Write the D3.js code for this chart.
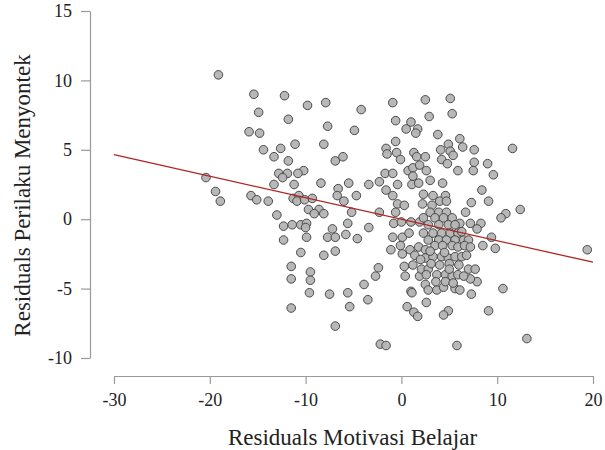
<!DOCTYPE html>
<html>
<head>
<meta charset="utf-8">
<script src="https://cdn.jsdelivr.net/npm/d3@7"></script>
<style>
  html, body { margin: 0; padding: 0; background: #fff; }
  svg { display: block; }
</style>
</head>
<body>
<svg id="chart" width="605" height="450"></svg>
<script>
// ---- data ----
const xTicks = [-30, -20, -10, 0, 10, 20];
const yTicks = [-10, -5, 0, 5, 10, 15];
const xLabel = "Residuals Motivasi Belajar";
const yLabel = "Residuals Perilaku Menyontek";

const residX = [
  -19.1,-15.4,-12.2,-9.8,-7.9,-14.9,-11.8,-7.7,-15.9,-14.8,-14.4,-12.6,-11.1,-8.1,-13.3,-11.8,-10.2,-12.8,-11.9,-10.8,-6.9,-12.4,
  -4.2,-0.9,2.5,5.1,-4.9,-0.6,1.0,2.9,5.3,0.5,1.7,1.5,3.8,6.1,-0.6,-1.6,-1.5,-0.5,-0.1,1.3,1.6,2.5,4.1,4.9,5.1,5.4,6.4,4.2,4.8,
  -6.1,-1.7,-0.9,0.7,1.2,1.9,2.6,5.9,7.6,11.6,7.6,9.0,7.5,9.6,
  -20.4,-19.4,-18.9,-15.7,-15.1,-13.9,-13.3,-11.2,-8.4,-11.3,-10.7,-10.9,-10.1,-9.3,-13.0,-9.7,-8.6,-9.1,-8.1,
  -12.3,-11.4,-10.5,-9.9,-10.0,-9.9,-12.3,-7.7,-7.2,-10.5,-8.1,-6.9,-11.5,-9.5,-11.5,-9.5,-9.6,-7.5,-11.5,-6.9,
  -5.5,-6.6,-6.7,-4.7,-6.0,-5.2,-2.3,-3.4,-2.3,-1.6,-0.9,-0.4,-0.4,0.3,1.2,1.1,1.8,2.3,2.2,-0.6,
  -5.6,-3.4,-6.9,-5.8,-4.6,-0.8,0.0,1.0,1.9,-0.9,0.1,0.8,-1.1,-0.1,0.9,1.8,2.5,0.1,1.4,-2.4,-2.7,0.3,1.2,0.4,1.9,
  4.3,8.4,9.1,7.3,6.7,10.9,10.4,6.1,7.2,8.3,7.9,9.4,8.5,9.8,
  3.0,3.3,4.6,4.0,4.7,3.2,3.0,3.9,4.7,2.3,3.5,4.4,5.3,2.8,3.9,4.9,5.6,2.3,3.3,4.2,5.1,5.9,2.8,3.9,4.7,5.6,6.5,6.3,7.0,
  3.5,4.3,5.3,5.9,6.6,7.2,2.5,3.3,4.2,4.9,5.6,6.3,2.1,2.8,7.0,7.7,2.6,3.7,4.6,5.3,5.9,
  -5.6,-3.9,-3.5,-5.4,-2.2,-1.6,5.8,1.0,1.1,2.5,2.8,3.7,4.4,5.6,0.6,1.3,1.7,2.6,4.9,4.4,
  7.9,7.2,6.5,6.1,7.3,10.6,9.1,13.1,12.4,19.4,
  3.1,4.0,5.0,6.0,3.6,4.6,5.4,2.0,3.0,4.5,6.8,5.0
];
const residY = [
  10.4,9.0,8.9,8.2,8.4,7.7,7.2,6.7,6.3,6.2,5.0,5.1,5.4,5.4,4.5,4.2,3.5,3.3,3.3,3.3,4.2,3.0,
  7.9,8.4,8.6,8.7,6.4,7.1,7.0,7.4,7.6,6.5,6.5,6.2,6.1,5.8,5.6,5.1,4.7,4.8,4.3,4.8,4.5,4.5,5.0,5.4,4.9,4.6,5.2,4.3,4.0,
  4.5,3.3,3.3,3.5,3.7,3.9,3.5,3.5,5.0,5.1,4.1,4.0,3.5,3.2,
  3.0,2.0,1.3,1.7,1.4,1.3,2.5,2.5,2.6,1.5,1.7,1.3,1.4,1.5,0.3,0.7,0.7,0.4,0.4,
  -0.5,-0.4,-0.4,-0.3,-0.6,-1.3,-1.5,-1.3,-0.7,-2.4,-2.6,-2.3,-3.4,-3.8,-4.3,-4.4,-5.3,-5.4,-6.4,-7.7,
  2.6,2.2,1.7,1.7,1.3,0.5,0.5,2.5,2.7,2.1,1.7,2.5,1.1,1.0,3.1,2.5,2.6,1.8,1.1,0.5,
  -0.3,-0.6,-1.3,-1.1,-1.4,-0.3,-0.2,-0.2,-0.2,-1.3,-1.3,-1.0,-2.2,-1.9,-2.2,-2.0,-2.2,-2.5,-2.6,-3.5,-4.1,-3.4,-3.3,-4.1,-4.1,
  2.6,2.1,1.3,1.2,0.5,0.4,0.1,-0.3,-0.3,-0.3,-0.7,-1.3,-1.9,-2.1,
  2.8,1.7,1.7,1.3,1.3,1.0,0.5,0.5,0.5,0.1,0.1,0.1,0.1,-0.4,-0.4,-0.4,-0.4,-1.0,-1.0,-1.0,-1.0,-1.0,-1.5,-1.5,-1.5,-1.5,-1.5,-0.9,-1.5,
  -1.9,-1.9,-1.9,-2.0,-1.9,-2.0,-2.8,-2.7,-2.7,-2.8,-2.7,-2.7,-3.6,-3.6,-3.6,-3.6,-4.0,-4.0,-4.0,-4.1,-4.0,
  -5.3,-4.7,-5.8,-6.3,-9.0,-9.1,-9.1,-5.2,-5.3,-4.7,-5.1,-5.1,-4.9,-5.0,-6.3,-6.7,-7.0,-6.0,-6.6,-6.9,
  -4.5,-4.3,-4.1,-5.1,-5.4,-5.0,-6.6,-8.6,0.7,-2.2,
  -3.2,-3.3,-3.2,-3.3,-4.5,-4.5,-4.6,-2.9,-2.3,-2.4,-2.6,-3.6
];
// regression line end points
const fitX = [-30, 20];
const fitY = [4.65, -3.1];

// ---- layout ----
const svg = d3.select("#chart");
const plot = { left: 114, right: 593, top: 11, bottom: 358 };
const yAxisX = 90, xAxisY = 376;
const serif = "'Liberation Serif', 'Times New Roman', serif";

const x = d3.scaleLinear().domain([-30, 20]).range([plot.left, plot.right]);
const y = d3.scaleLinear().domain([-10, 15]).range([plot.bottom, plot.top]);

// axes
const gx = svg.append("g")
  .attr("transform", `translate(0,${xAxisY})`)
  .call(d3.axisBottom(x).tickValues(xTicks).tickSize(8).tickSizeOuter(0).tickPadding(9)
        .tickFormat(d3.format("d")));
const gy = svg.append("g")
  .attr("transform", `translate(${yAxisX},0)`)
  .call(d3.axisLeft(y).tickValues(yTicks).tickSize(9).tickSizeOuter(0).tickPadding(9)
        .tickFormat(d3.format("d")));

[gx, gy].forEach(g => {
  g.selectAll("path.domain").attr("stroke", "#9a9a9a").attr("stroke-width", 1.2);
  g.selectAll(".tick line").attr("stroke", "#9a9a9a").attr("stroke-width", 1.2);
  g.selectAll(".tick text")
    .attr("font-family", serif).attr("font-size", 18).attr("fill", "#222");
});
gx.selectAll(".tick text").text(d => d < 0 ? "-" + Math.abs(d) : d);
gy.selectAll(".tick text").text(d => d < 0 ? "-" + Math.abs(d) : d);

// axis titles
svg.append("text")
  .attr("x", (plot.left + plot.right) / 2 - 1).attr("y", 445)
  .attr("text-anchor", "middle")
  .attr("font-family", serif).attr("font-size", 23).attr("fill", "#222")
  .text(xLabel);
svg.append("text")
  .attr("transform", `translate(30,${(plot.top + plot.bottom) / 2 + 11}) rotate(-90)`)
  .attr("text-anchor", "middle")
  .attr("font-family", serif).attr("font-size", 23).attr("fill", "#222")
  .text(yLabel);

// points
const pts = residX.map((v, i) => ({ x: v, y: residY[i] }));
svg.append("g").selectAll("circle")
  .data(pts).join("circle")
  .attr("cx", d => x(d.x)).attr("cy", d => y(d.y)).attr("r", 4.3)
  .attr("fill", "#b4b4b4").attr("fill-opacity", 0.95)
  .attr("stroke", "#4a4a4a").attr("stroke-width", 1);

// regression line
const line = d3.line().x(d => x(d[0])).y(d => y(d[1]));
svg.append("path")
  .datum(fitX.map((v, i) => [v, fitY[i]]))
  .attr("d", line)
  .attr("fill", "none").attr("stroke", "#b22222").attr("stroke-width", 1.3);
</script>
</body>
</html>
